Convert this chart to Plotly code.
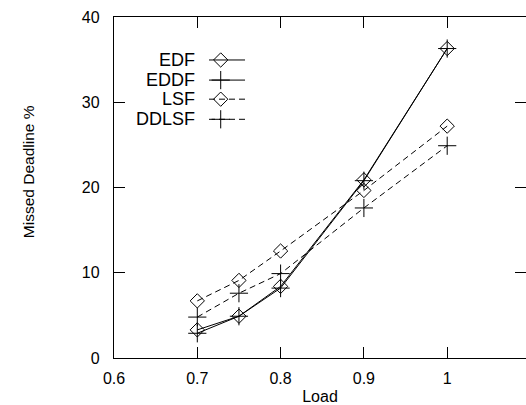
import plotly.graph_objects as go

load = [0.7, 0.75, 0.8, 0.9, 1.0]
edf = [3.3, 4.9, 8.4, 20.9, 36.3]
eddf = [2.9, 4.9, 8.2, 20.8, 36.3]
lsf = [6.7, 9.1, 12.55, 19.65, 27.2]
ddlsf = [4.8, 7.6, 9.9, 17.6, 24.9]

series_names = ["EDF", "EDDF", "LSF", "DDLSF"]
series_vals = [edf, eddf, lsf, ddlsf]
x_ticks = [0.6, 0.7, 0.8, 0.9, 1.0]
x_ticklabels = ["0.6", "0.7", "0.8", "0.9", "1"]
y_ticks = [0, 10, 20, 30, 40]

FONT = "Liberation Sans, Arial, Helvetica, sans-serif"
styles = [
    dict(symbol="diamond-open", size=11, dash="solid"),
    dict(symbol="cross-thin-open", size=13, dash="solid"),
    dict(symbol="diamond-open", size=11, dash="6px,4px"),
    dict(symbol="cross-thin-open", size=13, dash="6px,4px"),
]

fig = go.Figure()
for name, vals, st in zip(series_names, series_vals, styles):
    fig.add_trace(go.Scatter(
        x=load, y=vals, mode="lines+markers", name=name, showlegend=False,
        line=dict(color="black", width=1, dash=st["dash"]),
        marker=dict(symbol=st["symbol"], size=st["size"], color="black",
                    line=dict(color="black", width=1)),
    ))

# custom gnuplot-style legend (text left of sample)
leg_y = [0.874, 0.815, 0.759, 0.700]
for name, st, yy in zip(series_names, styles, leg_y):
    fig.add_trace(go.Scatter(
        x=[0.2306, 0.318], y=[yy, yy], mode="lines", xaxis="x2", yaxis="y2",
        showlegend=False, hoverinfo="skip",
        line=dict(color="black", width=1, dash=st["dash"]),
    ))
    fig.add_trace(go.Scatter(
        x=[0.259], y=[yy], mode="markers", xaxis="x2", yaxis="y2",
        showlegend=False, hoverinfo="skip",
        marker=dict(symbol=st["symbol"], size=st["size"], color="black",
                    line=dict(color="black", width=1)),
    ))
    fig.add_annotation(x=0.2015, y=yy, xref="paper", yref="paper",
                       text=name, showarrow=False, xanchor="right",
                       yanchor="middle", font=dict(family=FONT, size=18, color="black"))

# y-axis title placed like the gnuplot original
fig.add_annotation(x=-0.2087, y=0.545, xref="paper", yref="paper",
                   text="Missed Deadline %", textangle=-90, showarrow=False,
                   xanchor="center", yanchor="middle",
                   font=dict(family=FONT, size=15.5, color="black"))

axis_common = dict(
    showgrid=False, zeroline=False, showline=True, linecolor="black",
    linewidth=1.3, mirror="ticks", ticks="inside", ticklen=11, tickwidth=1.3,
    tickcolor="black", tickfont=dict(family=FONT, size=16, color="black"),
)

fig.update_layout(
    width=526, height=405,
    margin=dict(l=114, r=0, t=17, b=47),
    paper_bgcolor="white", plot_bgcolor="white",
    xaxis=dict(range=[0.6, 1.0946], tickvals=x_ticks, ticktext=x_ticklabels,
               ticklabelstandoff=6,
               title=dict(text="Load", standoff=5,
                          font=dict(family=FONT, size=16, color="black")),
               **axis_common),
    yaxis=dict(range=[0, 40], tickvals=y_ticks, ticklabelstandoff=10,
               **axis_common),
    xaxis2=dict(range=[0, 1], overlaying="x", visible=False, fixedrange=True),
    yaxis2=dict(range=[0, 1], overlaying="y", visible=False, fixedrange=True),
)

fig.write_html("out.html")
